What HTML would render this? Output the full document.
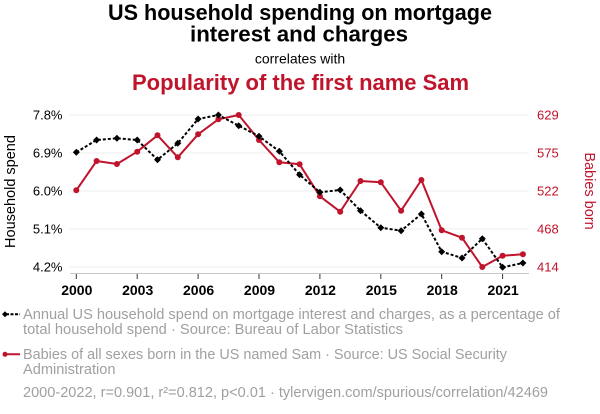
<!DOCTYPE html>
<html><head><meta charset="utf-8"><style>
html,body{margin:0;padding:0;background:#fff;}
svg{display:block;font-family:"Liberation Sans",Arial,sans-serif;}
</style></head><body>
<svg width="600" height="414" viewBox="0 0 600 414" xmlns="http://www.w3.org/2000/svg">
<rect width="600" height="414" fill="#fff"/>
<!-- titles -->
<text x="300" y="20" text-anchor="middle" font-size="22" font-weight="bold" fill="#000" textLength="384" lengthAdjust="spacingAndGlyphs">US household spending on mortgage</text>
<text x="299" y="41.5" text-anchor="middle" font-size="22" font-weight="bold" fill="#000" textLength="218" lengthAdjust="spacingAndGlyphs">interest and charges</text>
<text x="300" y="63.5" text-anchor="middle" font-size="14" fill="#000">correlates with</text>
<text x="300.5" y="90" text-anchor="middle" font-size="22" font-weight="bold" fill="#c0142c" textLength="337" lengthAdjust="spacingAndGlyphs">Popularity of the first name Sam</text>
<!-- gridlines -->
<g stroke="#eeeeee" stroke-width="1">
<line x1="70" x2="529" y1="115" y2="115"/>
<line x1="70" x2="529" y1="153" y2="153"/>
<line x1="70" x2="529" y1="191" y2="191"/>
<line x1="70" x2="529" y1="229" y2="229"/>
<line x1="70" x2="529" y1="267" y2="267"/>
</g>
<!-- axis -->
<line x1="70" x2="529" y1="273.5" y2="273.5" stroke="#c8c8c8" stroke-width="1"/>
<g stroke="#333" stroke-width="1">
<line x1="76.3" x2="76.3" y1="274" y2="279"/>
<line x1="137.2" x2="137.2" y1="274" y2="279"/>
<line x1="198.1" x2="198.1" y1="274" y2="279"/>
<line x1="259" x2="259" y1="274" y2="279"/>
<line x1="319.9" x2="319.9" y1="274" y2="279"/>
<line x1="380.8" x2="380.8" y1="274" y2="279"/>
<line x1="441.7" x2="441.7" y1="274" y2="279"/>
<line x1="502.6" x2="502.6" y1="274" y2="279"/>
</g>
<g font-size="14" font-weight="bold" fill="#000" text-anchor="middle">
<text x="76.8" y="295">2000</text>
<text x="137.7" y="295">2003</text>
<text x="198.6" y="295">2006</text>
<text x="259.5" y="295">2009</text>
<text x="320.4" y="295">2012</text>
<text x="381.3" y="295">2015</text>
<text x="442.2" y="295">2018</text>
<text x="503.1" y="295">2021</text>
</g>
<!-- left ticks -->
<g font-size="13" fill="#000" text-anchor="end">
<text x="62.5" y="119.5">7.8%</text>
<text x="62.5" y="157.5">6.9%</text>
<text x="62.5" y="195.5">6.0%</text>
<text x="62.5" y="233.5">5.1%</text>
<text x="62.5" y="271.5">4.2%</text>
</g>
<!-- right ticks -->
<g font-size="13" fill="#c0142c" text-anchor="start">
<text x="537" y="119.5">629</text>
<text x="537" y="157.5">575</text>
<text x="537" y="195.5">522</text>
<text x="537" y="233.5">468</text>
<text x="537" y="271.5">414</text>
</g>
<!-- axis titles -->
<text transform="translate(15,191.5) rotate(-90)" text-anchor="middle" font-size="14.5" fill="#000">Household spend</text>
<text transform="translate(585,191) rotate(90)" text-anchor="middle" font-size="14.5" fill="#c0142c">Babies born</text>
<!-- red series -->
<polyline fill="none" stroke="#c0142c" stroke-width="2" stroke-linejoin="round" points="76.3,190.3 96.6,161 116.9,164 137.2,151.7 157.5,135.3 177.8,157.3 198.1,134.3 218.4,119.3 238.7,115 259,140 279.3,162.3 299.6,164.3 319.9,196.3 340.2,211.7 360.5,181 380.8,182.3 401.1,210.7 421.4,180 441.7,230.3 462,237.7 482.3,267 502.6,255.7 522.9,254.3"/>
<g fill="#c0142c">
<circle cx="76.3" cy="190.3" r="3"/><circle cx="96.6" cy="161" r="3"/><circle cx="116.9" cy="164" r="3"/><circle cx="137.2" cy="151.7" r="3"/><circle cx="157.5" cy="135.3" r="3"/><circle cx="177.8" cy="157.3" r="3"/><circle cx="198.1" cy="134.3" r="3"/><circle cx="218.4" cy="119.3" r="3"/><circle cx="238.7" cy="115" r="3"/><circle cx="259" cy="140" r="3"/><circle cx="279.3" cy="162.3" r="3"/><circle cx="299.6" cy="164.3" r="3"/><circle cx="319.9" cy="196.3" r="3"/><circle cx="340.2" cy="211.7" r="3"/><circle cx="360.5" cy="181" r="3"/><circle cx="380.8" cy="182.3" r="3"/><circle cx="401.1" cy="210.7" r="3"/><circle cx="421.4" cy="180" r="3"/><circle cx="441.7" cy="230.3" r="3"/><circle cx="462" cy="237.7" r="3"/><circle cx="482.3" cy="267" r="3"/><circle cx="502.6" cy="255.7" r="3"/><circle cx="522.9" cy="254.3" r="3"/>
</g>
<!-- black series -->
<polyline fill="none" stroke="#000" stroke-width="2" stroke-dasharray="3,2" points="76.3,152.3 96.6,140 116.9,138.3 137.2,140 157.5,159.7 177.8,143.3 198.1,119 218.4,115 238.7,125.7 259,136.3 279.3,151.3 299.6,174.7 319.9,192.3 340.2,190 360.5,210.7 380.8,227.7 401.1,230.7 421.4,214 441.7,251.7 462,258 482.3,238.7 502.6,267.3 522.9,263"/>
<g fill="#000">
<path d="M76.3,148.8l3.5,3.5l-3.5,3.5l-3.5,-3.5z"/>
<path d="M96.6,136.5l3.5,3.5l-3.5,3.5l-3.5,-3.5z"/>
<path d="M116.9,134.8l3.5,3.5l-3.5,3.5l-3.5,-3.5z"/>
<path d="M137.2,136.5l3.5,3.5l-3.5,3.5l-3.5,-3.5z"/>
<path d="M157.5,156.2l3.5,3.5l-3.5,3.5l-3.5,-3.5z"/>
<path d="M177.8,139.8l3.5,3.5l-3.5,3.5l-3.5,-3.5z"/>
<path d="M198.1,115.5l3.5,3.5l-3.5,3.5l-3.5,-3.5z"/>
<path d="M218.4,111.5l3.5,3.5l-3.5,3.5l-3.5,-3.5z"/>
<path d="M238.7,122.2l3.5,3.5l-3.5,3.5l-3.5,-3.5z"/>
<path d="M259,132.8l3.5,3.5l-3.5,3.5l-3.5,-3.5z"/>
<path d="M279.3,147.8l3.5,3.5l-3.5,3.5l-3.5,-3.5z"/>
<path d="M299.6,171.2l3.5,3.5l-3.5,3.5l-3.5,-3.5z"/>
<path d="M319.9,188.8l3.5,3.5l-3.5,3.5l-3.5,-3.5z"/>
<path d="M340.2,186.5l3.5,3.5l-3.5,3.5l-3.5,-3.5z"/>
<path d="M360.5,207.2l3.5,3.5l-3.5,3.5l-3.5,-3.5z"/>
<path d="M380.8,224.2l3.5,3.5l-3.5,3.5l-3.5,-3.5z"/>
<path d="M401.1,227.2l3.5,3.5l-3.5,3.5l-3.5,-3.5z"/>
<path d="M421.4,210.5l3.5,3.5l-3.5,3.5l-3.5,-3.5z"/>
<path d="M441.7,248.2l3.5,3.5l-3.5,3.5l-3.5,-3.5z"/>
<path d="M462,254.5l3.5,3.5l-3.5,3.5l-3.5,-3.5z"/>
<path d="M482.3,235.2l3.5,3.5l-3.5,3.5l-3.5,-3.5z"/>
<path d="M502.6,263.8l3.5,3.5l-3.5,3.5l-3.5,-3.5z"/>
<path d="M522.9,259.5l3.5,3.5l-3.5,3.5l-3.5,-3.5z"/>
</g>
<!-- legend -->
<line x1="6" x2="20" y1="314.3" y2="314.3" stroke="#000" stroke-width="2" stroke-dasharray="3,1.5"/>
<path d="M5,311.3l3,3l-3,3l-3,-3z" fill="#000"/>
<line x1="3" x2="20" y1="354.3" y2="354.3" stroke="#c0142c" stroke-width="2"/>
<circle cx="5" cy="354.3" r="2.5" fill="#c0142c"/>
<g font-size="14.5" fill="#a0a0a0">
<text x="23" y="319" textLength="537" lengthAdjust="spacingAndGlyphs">Annual US household spend on mortgage interest and charges, as a percentage of</text>
<text x="23" y="334" textLength="380" lengthAdjust="spacingAndGlyphs">total household spend · Source: Bureau of Labor Statistics</text>
<text x="23" y="359" textLength="484" lengthAdjust="spacingAndGlyphs">Babies of all sexes born in the US named Sam · Source: US Social Security</text>
<text x="23" y="374" textLength="92.5" lengthAdjust="spacingAndGlyphs">Administration</text>
<text x="23" y="397" textLength="525" lengthAdjust="spacingAndGlyphs">2000-2022, r=0.901, r²=0.812, p&lt;0.01 · tylervigen.com/spurious/correlation/42469</text>
</g>
</svg>
</body></html>
